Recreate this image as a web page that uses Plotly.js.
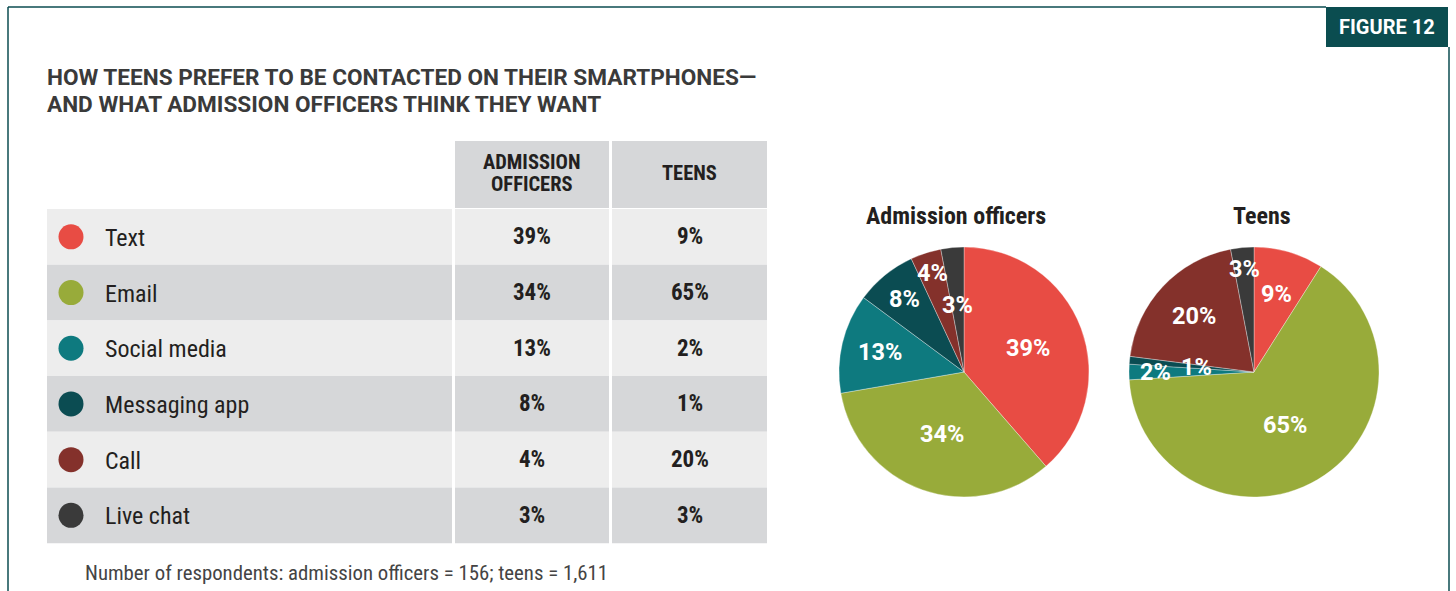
<!DOCTYPE html>
<html>
<head>
<meta charset="utf-8">
<script src="https://cdn.plot.ly/plotly-3.0.1.min.js"></script>
<style>
html,body{margin:0;padding:0;background:#fff;}
#chart{width:1456px;height:591px;}
</style>
</head>
<body>
<div id="chart"></div>
<script>
// ---- data ----
const categories = ['Text', 'Email', 'Social media', 'Messaging app', 'Call', 'Live chat'];
const officersPct = [39, 34, 13, 8, 4, 3];
const teensPct = [9, 65, 2, 1, 20, 3];
const columnHeaders = [['ADMISSION', 'OFFICERS'], ['TEENS']];
const pieTitles = ['Admission officers', 'Teens'];
const titleLines = ['HOW TEENS PREFER TO BE CONTACTED ON THEIR SMARTPHONES—', 'AND WHAT ADMISSION OFFICERS THINK THEY WANT'];
const figureLabel = 'FIGURE 12';
const footnote = 'Number of respondents: admission officers = 156; teens = 1,611';

// ---- style ----
const sliceColors = ['#e84c44', '#98ab3a', '#0e7a7f', '#0b4c52', '#84312b', '#3a3a3a'];
// radial position of each slice label, as a fraction of the radius (style only)
const labelRadius = [
  [0.55, 0.53, 0.69, 0.75, 0.83, 0.54],
  [0.65, 0.49, 0.79, 0.46, 0.66, 0.83]
];
const condensed = 'Roboto Condensed, Liberation Sans Narrow, DejaVu Sans Condensed, Roboto, sans-serif';
const regular = 'Roboto, sans-serif';
const W = 1456, H = 591;
const teal = '#0b4d50';
const lightRow = '#ededed', darkRow = '#d6d7d9';

const colX = [[455, 609], [612, 767]];
const labelCol = [47, 452];
const rowTop = 209, rowH = 55.7;
const headerTop = 141, headerBottom = 208;

const shapes = [];
const annotations = [];

// frame
shapes.push({type: 'line', xref: 'paper', yref: 'paper', x0: 8 / W, x1: 1326 / W, y0: 1 - 7 / H, y1: 1 - 7 / H, line: {color: teal, width: 1.5}});
shapes.push({type: 'line', xref: 'paper', yref: 'paper', x0: 8 / W, x1: 8 / W, y0: 1 - 7 / H, y1: -0.1, line: {color: teal, width: 1.5}});
shapes.push({type: 'line', xref: 'paper', yref: 'paper', x0: 1449 / W, x1: 1449 / W, y0: 1 - 47 / H, y1: -0.1, line: {color: teal, width: 1.5}});
shapes.push({type: 'rect', xref: 'paper', yref: 'paper', x0: 1326 / W, x1: 1448 / W, y0: 1 - 7 / H, y1: 1 - 47 / H, fillcolor: teal, line: {width: 0}});

// table header cells
colX.forEach(([a, b]) => {
  shapes.push({type: 'rect', xref: 'x', yref: 'y', x0: a, x1: b, y0: headerTop, y1: headerBottom, fillcolor: darkRow, line: {width: 0}, layer: 'below'});
});
// table rows
categories.forEach((c, i) => {
  const y0 = rowTop + i * rowH, y1 = y0 + rowH;
  const fill = i % 2 === 0 ? lightRow : darkRow;
  [labelCol, ...colX].forEach(([a, b]) => {
    shapes.push({type: 'rect', xref: 'x', yref: 'y', x0: a, x1: b, y0: y0, y1: y1, fillcolor: fill, line: {width: 0}, layer: 'below'});
  });
});

const rowCenters = categories.map((c, i) => rowTop + (i + 0.5) * rowH);

// header text, one annotation per line
columnHeaders.forEach((lines, j) => {
  const mid = (headerTop + headerBottom) / 2 - 1.5;
  const gap = 22;
  lines.forEach((ln, k) => {
    annotations.push({xref: 'x', yref: 'y', x: (colX[j][0] + colX[j][1]) / 2, y: mid + (k - (lines.length - 1) / 2) * gap,
      text: '<b>' + ln + '</b>', showarrow: false, xanchor: 'center', yanchor: 'middle',
      font: {family: condensed, size: 20.5, color: '#231f20'}});
  });
});
// row labels and values
categories.forEach((c, i) => {
  annotations.push({xref: 'x', yref: 'y', x: 103, y: rowCenters[i] + 1, text: c, showarrow: false, xanchor: 'left', yanchor: 'middle',
    font: {family: condensed, size: 24, color: '#231f20'}});
  [officersPct, teensPct].forEach((arr, j) => {
    annotations.push({xref: 'x', yref: 'y', x: (colX[j][0] + colX[j][1]) / 2, y: rowCenters[i], text: '<b>' + arr[i] + '%</b>',
      showarrow: false, xanchor: 'center', yanchor: 'middle', font: {family: condensed, size: 23, color: '#231f20'}});
  });
});

// title (two lines), figure label, footnote
titleLines.forEach((t, k) => {
  annotations.push({xref: 'paper', yref: 'paper', x: 45 / W, y: 1 - (77.5 + 27 * k) / H, text: '<b>' + t + '</b>', showarrow: false,
    xanchor: 'left', yanchor: 'middle', align: 'left', font: {family: regular, size: 22.6, color: '#3a3a3a'}});
});
annotations.push({xref: 'paper', yref: 'paper', x: 1387 / W, y: 1 - 27 / H, text: '<b>' + figureLabel + '</b>', showarrow: false,
  xanchor: 'center', yanchor: 'middle', font: {family: regular, size: 20, color: '#ffffff'}});
annotations.push({xref: 'paper', yref: 'paper', x: 83 / W, y: 1 - 573 / H, text: footnote, showarrow: false,
  xanchor: 'left', yanchor: 'middle', font: {family: condensed, size: 20.8, color: '#444444'}});

// pies
const pieCenters = [[964, 372], [1254, 372]];
const R = 125;
const titleX = [956, 1262];
pieTitles.forEach((t, k) => {
  annotations.push({xref: 'paper', yref: 'paper', x: titleX[k] / W, y: 1 - 216 / H, text: '<b>' + t + '</b>', showarrow: false,
    xanchor: 'center', yanchor: 'middle', font: {family: condensed, size: 24, color: '#231f20'}});
});

function pieTrace(values, k) {
  const [cx, cy] = pieCenters[k];
  return {
    type: 'pie', values: values, labels: categories, sort: false, direction: 'clockwise', rotation: 0,
    marker: {colors: sliceColors, line: {color: 'rgba(255,255,255,0.55)', width: 0.6}},
    textinfo: 'none', textposition: 'none',
    domain: {x: [(cx - R) / W, (cx + R) / W], y: [1 - (cy + R) / H, 1 - (cy - R) / H]},
    showlegend: false, hoverinfo: 'label+value'
  };
}

// slice labels placed at each slice's mid-angle (clockwise from 12 o'clock)
[officersPct, teensPct].forEach((vals, k) => {
  const total = vals.reduce((a, b) => a + b, 0);
  const [cx, cy] = pieCenters[k];
  let cum = 0;
  vals.forEach((v, i) => {
    const mid = (cum + v / 2) / total * 2 * Math.PI;
    cum += v;
    const r = labelRadius[k][i] * R;
    annotations.push({xref: 'x', yref: 'y', x: cx + r * Math.sin(mid), y: cy - r * Math.cos(mid),
      text: '<b>' + v + '%</b>', showarrow: false, xanchor: 'center', yanchor: 'middle',
      font: {family: regular, size: 23.5, color: '#ffffff'}});
  });
});

const circles = {
  type: 'scatter', mode: 'markers', x: categories.map(() => 71), y: rowCenters,
  marker: {size: 25, color: sliceColors}, showlegend: false, hoverinfo: 'skip', xaxis: 'x', yaxis: 'y'
};

const data = [circles, pieTrace(officersPct, 0), pieTrace(teensPct, 1)];

const layout = {
  width: W, height: H, margin: {l: 0, r: 0, t: 0, b: 0},
  paper_bgcolor: '#ffffff', plot_bgcolor: 'rgba(0,0,0,0)',
  xaxis: {range: [0, W], visible: false, fixedrange: true, domain: [0, 1]},
  yaxis: {range: [H, 0], visible: false, fixedrange: true, domain: [0, 1]},
  shapes: shapes, annotations: annotations,
  showlegend: false
};

Plotly.newPlot('chart', data, layout, {staticPlot: true});
</script>
</body>
</html>
